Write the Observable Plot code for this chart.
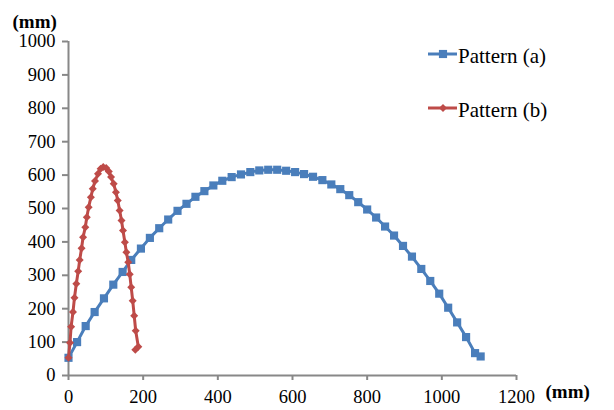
<!DOCTYPE html>
<html>
<head>
<meta charset="utf-8">
<script src="https://cdn.jsdelivr.net/npm/d3@7"></script>
<script src="https://cdn.jsdelivr.net/npm/@observablehq/plot@0.6"></script>
<style>
  html, body { margin: 0; padding: 0; background: #fff; }
  #wrap { position: relative; width: 614px; height: 410px; }
  #legend { position: absolute; left: 0; top: 0; }
</style>
</head>
<body>
<div id="wrap"></div>
<script>
const seriesNames = ["Pattern (a)", "Pattern (b)"];
const xTicks = [0, 200, 400, 600, 800, 1000, 1200];
const yTicks = [0, 100, 200, 300, 400, 500, 600, 700, 800, 900, 1000];
const axisUnit = "(mm)";

const patternAX = [0,23,46,70,95,120,145,168,194,218,243,267,292,316,340,364,388,412,437,462,487,511,535,559,583,607,631,655,680,704,728,752,776,800,824,848,872,896,920,945,969,993,1017,1041,1065,1089,1104];
const patternAY = [53,100,148,190,231,272,310,346,380,412,441,467,493,514,535,552,569,583,594,602,609,614,616,616,613,609,603,595,585,572,558,540,519,497,473,446,419,388,356,319,283,245,203,159,115,67,57];

const patternBX = [0,4,7,12,16,21,26,30,35,39,45,49,54,60,65,71,79,86,93,101,108,114,121,127,132,137,142,146,151,155,160,164,168,172,176,180,187,179];
const patternBY = [53,98,146,190,233,275,312,346,381,414,444,474,504,534,559,582,604,619,624,621,611,594,574,549,524,494,464,434,399,369,339,303,264,224,179,134,86,77];

const colors = ["#4a7ebb", "#be4b48"];
const axisGray = "#888888";
const serif = "'Liberation Serif', 'Times New Roman', serif";

const dataA = patternAX.map((x, i) => ({x, y: patternAY[i]}));
const dataB = patternBX.map((x, i) => ({x, y: patternBY[i]}));

const chart = Plot.plot({
  width: 614,
  height: 410,
  marginLeft: 68,
  marginRight: 98,
  marginTop: 41,
  marginBottom: 35,
  style: { fontFamily: serif, fontSize: "18.5px", color: "#000", background: "#fff", overflow: "visible" },
  x: { domain: [0, 1200] },
  y: { domain: [0, 1000] },
  marks: [
    Plot.axisX({ ticks: xTicks, tickFormat: d3.format("d"), tickSize: 5, tickPadding: 9, stroke: axisGray, strokeWidth: 2, fill: "#000", label: null, fontSize: 18.5 }),
    Plot.axisY({ ticks: yTicks, tickFormat: d3.format("d"), tickSize: 6, tickPadding: 7, stroke: axisGray, strokeWidth: 2, fill: "#000", label: null, fontSize: 18.5 }),
    Plot.ruleY([0], { stroke: axisGray, strokeWidth: 2 }),
    Plot.ruleX([0], { stroke: axisGray, strokeWidth: 2 }),
    Plot.line(dataA, { x: "x", y: "y", stroke: colors[0], strokeWidth: 3 }),
    Plot.dot(dataA, { x: "x", y: "y", symbol: "square", r: 4.6, fill: colors[0], stroke: "none" }),
    Plot.line(dataB, { x: "x", y: "y", stroke: colors[1], strokeWidth: 3 }),
    Plot.dot(dataB, { x: "x", y: "y", symbol: "diamond2", r: 3.6, fill: colors[1], stroke: "none" }),
    Plot.text([axisUnit], { frameAnchor: "top-left", dx: -56, dy: -27, textAnchor: "start", fontWeight: "bold", fontSize: 19, fill: "#000" }),
    Plot.text([axisUnit], { frameAnchor: "bottom-right", dx: 29, dy: 22, textAnchor: "start", fontWeight: "bold", fontSize: 19, fill: "#000" })
  ]
});

const wrap = document.getElementById("wrap");
wrap.appendChild(chart);

// legend overlay
const leg = d3.select(wrap).append("svg")
  .attr("id", "legend").attr("width", 614).attr("height", 410)
  .style("pointer-events", "none");
const legendRows = [
  { name: seriesNames[0], color: colors[0], sym: d3.symbolSquare, size: Math.PI * 4.6 * 4.6, y: 54 },
  { name: seriesNames[1], color: colors[1], sym: d3.symbolDiamond2, size: Math.PI * 3.6 * 3.6, y: 108 }
];
legendRows.forEach(r => {
  const g = leg.append("g");
  g.append("line").attr("x1", 428).attr("x2", 457).attr("y1", r.y).attr("y2", r.y)
    .attr("stroke", r.color).attr("stroke-width", 3);
  g.append("path").attr("d", d3.symbol(r.sym, r.size)()).attr("transform", `translate(443,${r.y})`)
    .attr("fill", r.color);
  g.append("text").attr("x", 458).attr("y", r.y + 9).text(r.name)
    .attr("font-family", serif)
    .attr("font-size", 21).attr("fill", "#000");
});
</script>
</body>
</html>
